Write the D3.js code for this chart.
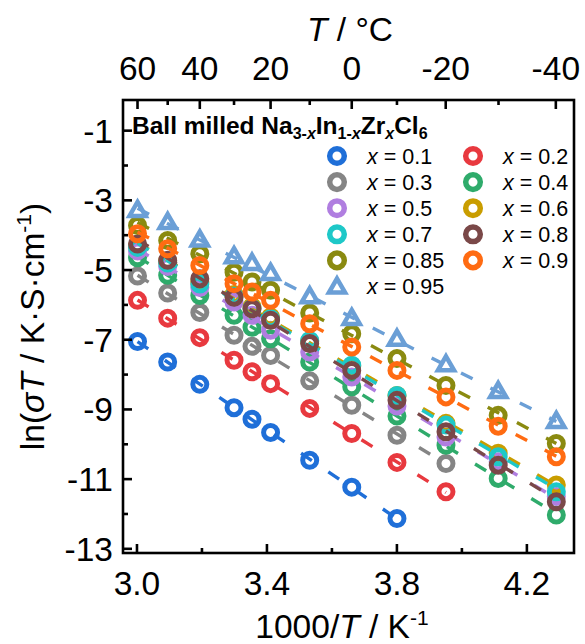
<!DOCTYPE html>
<html>
<head>
<meta charset="utf-8">
<script src="https://cdn.jsdelivr.net/npm/d3@7"></script>
<style>
  body { margin: 0; background: #fff; }
  text { font-family: Arial, "Liberation Sans", sans-serif; fill: #000; }
</style>
</head>
<body>
<svg id="chart" width="585" height="644"></svg>
<script>
// 1000/T (K^-1) for the measurement temperatures 60 ... -40 °C
const invT = [3.0017, 3.0945, 3.1934, 3.2987, 3.3540, 3.4112, 3.5316, 3.6610, 3.8002, 3.9510, 4.1117, 4.2906];

// ln(sigma*T) for each composition x (null = not measured)
const x010 = [-7.05, -7.64, -8.28, -8.95, -9.28, -9.66, -10.46, -11.23, -12.13, null, null, null];
const x020 = [-5.87, -6.38, -6.94, -7.59, -7.92, -8.26, -8.97, -9.69, -10.52, -11.36, null, null];
const x030 = [-5.17, -5.66, -6.22, -6.87, -7.19, -7.45, -8.18, -8.88, -9.74, -10.55, null, null];
const x040 = [-4.65, -5.15, -5.73, -6.30, -6.64, -6.97, -7.64, -8.35, -9.19, -10.03, -10.98, -12.03];
const x050 = [-4.45, -4.90, -5.50, -5.92, -6.30, -6.73, -7.35, -8.07, -8.90, -9.79, -10.50, -11.50];
const x060 = [-4.30, -4.75, -5.35, -5.70, -6.05, -6.35, -7.05, -7.75, -8.60, -9.40, -10.26, -11.17];
const x070 = [-4.35, -4.80, -5.40, -5.75, -6.10, -6.40, -7.02, -7.73, -8.60, -9.45, -10.36, -11.36];
const x080 = [-4.25, -4.72, -5.25, -5.78, -6.11, -6.44, -7.11, -7.88, -8.74, -9.64, -10.60, -11.65];
const x085 = [-3.72, -4.15, -4.53, -5.06, -5.34, -5.58, -6.23, -6.83, -7.54, -8.31, -9.17, -9.98];
const x090 = [-3.96, -4.39, -4.87, -5.39, -5.63, -5.87, -6.54, -7.21, -7.88, -8.64, -9.48, -10.36];
const x095 = [-3.30, -3.65, -4.15, -4.63, -4.82, -5.11, -5.78, -6.40, -7.00, -7.73, -8.50, -9.36];

const compositions = ["0.1", "0.2", "0.3", "0.4", "0.5", "0.6", "0.7", "0.8", "0.85", "0.9", "0.95"];
const seriesValues = [x010, x020, x030, x040, x050, x060, x070, x080, x085, x090, x095];
const seriesColors = ["#1f6fd8", "#e8393f", "#858585", "#2fab6b", "#b07ee0", "#c99d00",
                      "#1ec8c8", "#7a4848", "#8a8a10", "#ff6b12", "#6b9fd6"];

// axis ticks
const xTicks = [3.0, 3.4, 3.8, 4.2];
const xMinorTicks = [3.2, 3.6, 4.0];
const yTicks = [-1, -3, -5, -7, -9, -11, -13];
const yMinorTicks = [-2, -4, -6, -8, -10, -12];
const tempTicks = [60, 40, 20, 0, -20, -40];
const tempMinorTicks = [50, 30, 10, -10, -30];

const svg = d3.select("#chart");
const m = { left: 123, right: 574, top: 100, bottom: 553 };

const x = d3.scaleLinear().domain([2.957, 4.345]).range([m.left, m.right]);
const y = d3.scaleLinear().domain([-13.12, -0.12]).range([m.bottom, m.top]);
const tempToX = t => x(1000 / (t + 273.15));

const tickFont = 33.5;

// ---- data: dashed Arrhenius fits, then open markers ----
const plot = svg.append("g");
svg.append("clipPath").attr("id", "plotclip").append("rect")
  .attr("x", m.left).attr("y", m.top).attr("width", m.right - m.left).attr("height", m.bottom - m.top);
plot.attr("clip-path", "url(#plotclip)");

function linearFit(pts) {
  const mx = d3.mean(pts, p => p[0]), my = d3.mean(pts, p => p[1]);
  const sxy = d3.sum(pts, p => (p[0] - mx) * (p[1] - my));
  const sxx = d3.sum(pts, p => (p[0] - mx) ** 2);
  const slope = sxy / sxx;
  return { slope, intercept: my - slope * mx };
}

const triPath = s => `M0,${-s * 1.05}L${s * 0.95},${s * 0.6}L${-s * 0.95},${s * 0.6}Z`;

seriesValues.forEach((vals, i) => {
  const pts = invT.map((v, j) => [v, vals[j]]).filter(p => p[1] !== null);
  const fit = linearFit(pts);
  const x0 = d3.min(pts, p => p[0]), x1 = d3.max(pts, p => p[0]);
  const color = seriesColors[i];
  const g = plot.append("g");
  g.append("line")
    .attr("x1", x(x0)).attr("y1", y(fit.intercept + fit.slope * x0))
    .attr("x2", x(x1)).attr("y2", y(fit.intercept + fit.slope * x1))
    .attr("stroke", color).attr("stroke-width", 3.4)
    .attr("stroke-dasharray", "13,20");
  if (compositions[i] === "0.95") {
    g.selectAll("path.mk").data(pts).join("path")
      .attr("transform", p => `translate(${x(p[0])},${y(p[1])})`)
      .attr("d", triPath(8.5))
      .attr("fill", "none").attr("stroke", color).attr("stroke-width", 4.5)
      .attr("stroke-linejoin", "miter");
  } else {
    g.selectAll("circle").data(pts).join("circle")
      .attr("cx", p => x(p[0])).attr("cy", p => y(p[1]))
      .attr("r", 7).attr("fill", "none")
      .attr("stroke", color).attr("stroke-width", 5);
  }
});

// ---- frame ----
svg.append("rect")
  .attr("x", m.left).attr("y", m.top)
  .attr("width", m.right - m.left).attr("height", m.bottom - m.top)
  .attr("fill", "none").attr("stroke", "#000").attr("stroke-width", 2.6);

// ---- ticks (inward) ----
const axisG = svg.append("g").attr("stroke", "#000").attr("stroke-width", 2.6);
xTicks.forEach(t => axisG.append("line").attr("x1", x(t)).attr("x2", x(t)).attr("y1", m.bottom).attr("y2", m.bottom - 9));
xMinorTicks.forEach(t => axisG.append("line").attr("x1", x(t)).attr("x2", x(t)).attr("y1", m.bottom).attr("y2", m.bottom - 5));
yTicks.forEach(t => axisG.append("line").attr("x1", m.left).attr("x2", m.left + 9).attr("y1", y(t)).attr("y2", y(t)));
yMinorTicks.forEach(t => axisG.append("line").attr("x1", m.left).attr("x2", m.left + 5).attr("y1", y(t)).attr("y2", y(t)));
tempTicks.forEach(t => axisG.append("line").attr("x1", tempToX(t)).attr("x2", tempToX(t)).attr("y1", m.top).attr("y2", m.top + 9));
tempMinorTicks.forEach(t => axisG.append("line").attr("x1", tempToX(t)).attr("x2", tempToX(t)).attr("y1", m.top).attr("y2", m.top + 5));

// ---- tick labels ----
const fmtX = d3.format(".1f");
svg.append("g").selectAll("text").data(xTicks).join("text")
  .attr("x", d => x(d)).attr("y", m.bottom + 42)
  .attr("text-anchor", "middle").attr("font-size", tickFont)
  .text(d => fmtX(d));
svg.append("g").selectAll("text").data(yTicks).join("text")
  .attr("x", m.left - 10).attr("y", d => y(d) + 12)
  .attr("text-anchor", "end").attr("font-size", tickFont)
  .text(d => d);
svg.append("g").selectAll("text").data(tempTicks).join("text")
  .attr("x", d => tempToX(d)).attr("y", m.top - 20)
  .attr("text-anchor", "middle").attr("font-size", tickFont)
  .text(d => d);

// ---- axis titles ----
const xt = svg.append("text").attr("x", 342).attr("y", 638)
  .attr("text-anchor", "middle").attr("font-size", tickFont);
xt.append("tspan").text("1000/");
xt.append("tspan").attr("font-style", "italic").text("T");
xt.append("tspan").text(" / K");
xt.append("tspan").attr("font-size", 21).attr("dy", -13).text("-1");

const tt = svg.append("text").attr("x", 350).attr("y", 41)
  .attr("text-anchor", "middle").attr("font-size", tickFont);
tt.append("tspan").attr("font-style", "italic").text("T");
tt.append("tspan").text(" / °C");

const yt = svg.append("text")
  .attr("transform", `translate(44,${(m.top + m.bottom) / 2}) rotate(-90)`)
  .attr("text-anchor", "middle").attr("font-size", tickFont);
yt.append("tspan").text("ln(");
yt.append("tspan").attr("font-style", "italic").text("σT");
yt.append("tspan").text(" / K·S·cm");
yt.append("tspan").attr("font-size", 21).attr("dy", -13).text("-1");
yt.append("tspan").attr("dy", 13).text(")");

// ---- legend ----
const lt = svg.append("text").attr("x", 132).attr("y", 134)
  .attr("font-size", 24.5).attr("font-weight", "bold");
lt.append("tspan").text("Ball milled Na");
lt.append("tspan").attr("font-size", 16).attr("dy", 5).text("3-");
lt.append("tspan").attr("font-size", 16).attr("font-style", "italic").text("x");
lt.append("tspan").attr("dy", -5).text("In");
lt.append("tspan").attr("font-size", 16).attr("dy", 5).text("1-");
lt.append("tspan").attr("font-size", 16).attr("font-style", "italic").text("x");
lt.append("tspan").attr("dy", -5).text("Zr");
lt.append("tspan").attr("font-size", 16).attr("font-style", "italic").attr("dy", 5).text("x");
lt.append("tspan").attr("dy", -5).text("Cl");
lt.append("tspan").attr("font-size", 16).attr("dy", 5).text("6");

const legendCols = [337, 473];
const legendRow0 = 156, legendRowStep = 26.1;
compositions.forEach((c, i) => {
  const col = i % 2, row = Math.floor(i / 2);
  const cx = legendCols[col], cy = legendRow0 + row * legendRowStep;
  const color = seriesColors[i];
  if (c === "0.95") {
    svg.append("path").attr("transform", `translate(${cx},${cy + 1})`)
      .attr("d", triPath(8.5)).attr("fill", "none")
      .attr("stroke", color).attr("stroke-width", 4.5);
  } else {
    svg.append("circle").attr("cx", cx).attr("cy", cy).attr("r", 7.3)
      .attr("fill", "none").attr("stroke", color).attr("stroke-width", 5.5);
  }
  const t = svg.append("text").attr("x", cx + 30).attr("y", cy + 7.5).attr("font-size", 21.5);
  t.append("tspan").attr("font-style", "italic").text("x");
  t.append("tspan").text(" = " + c);
});
</script>
</body>
</html>
